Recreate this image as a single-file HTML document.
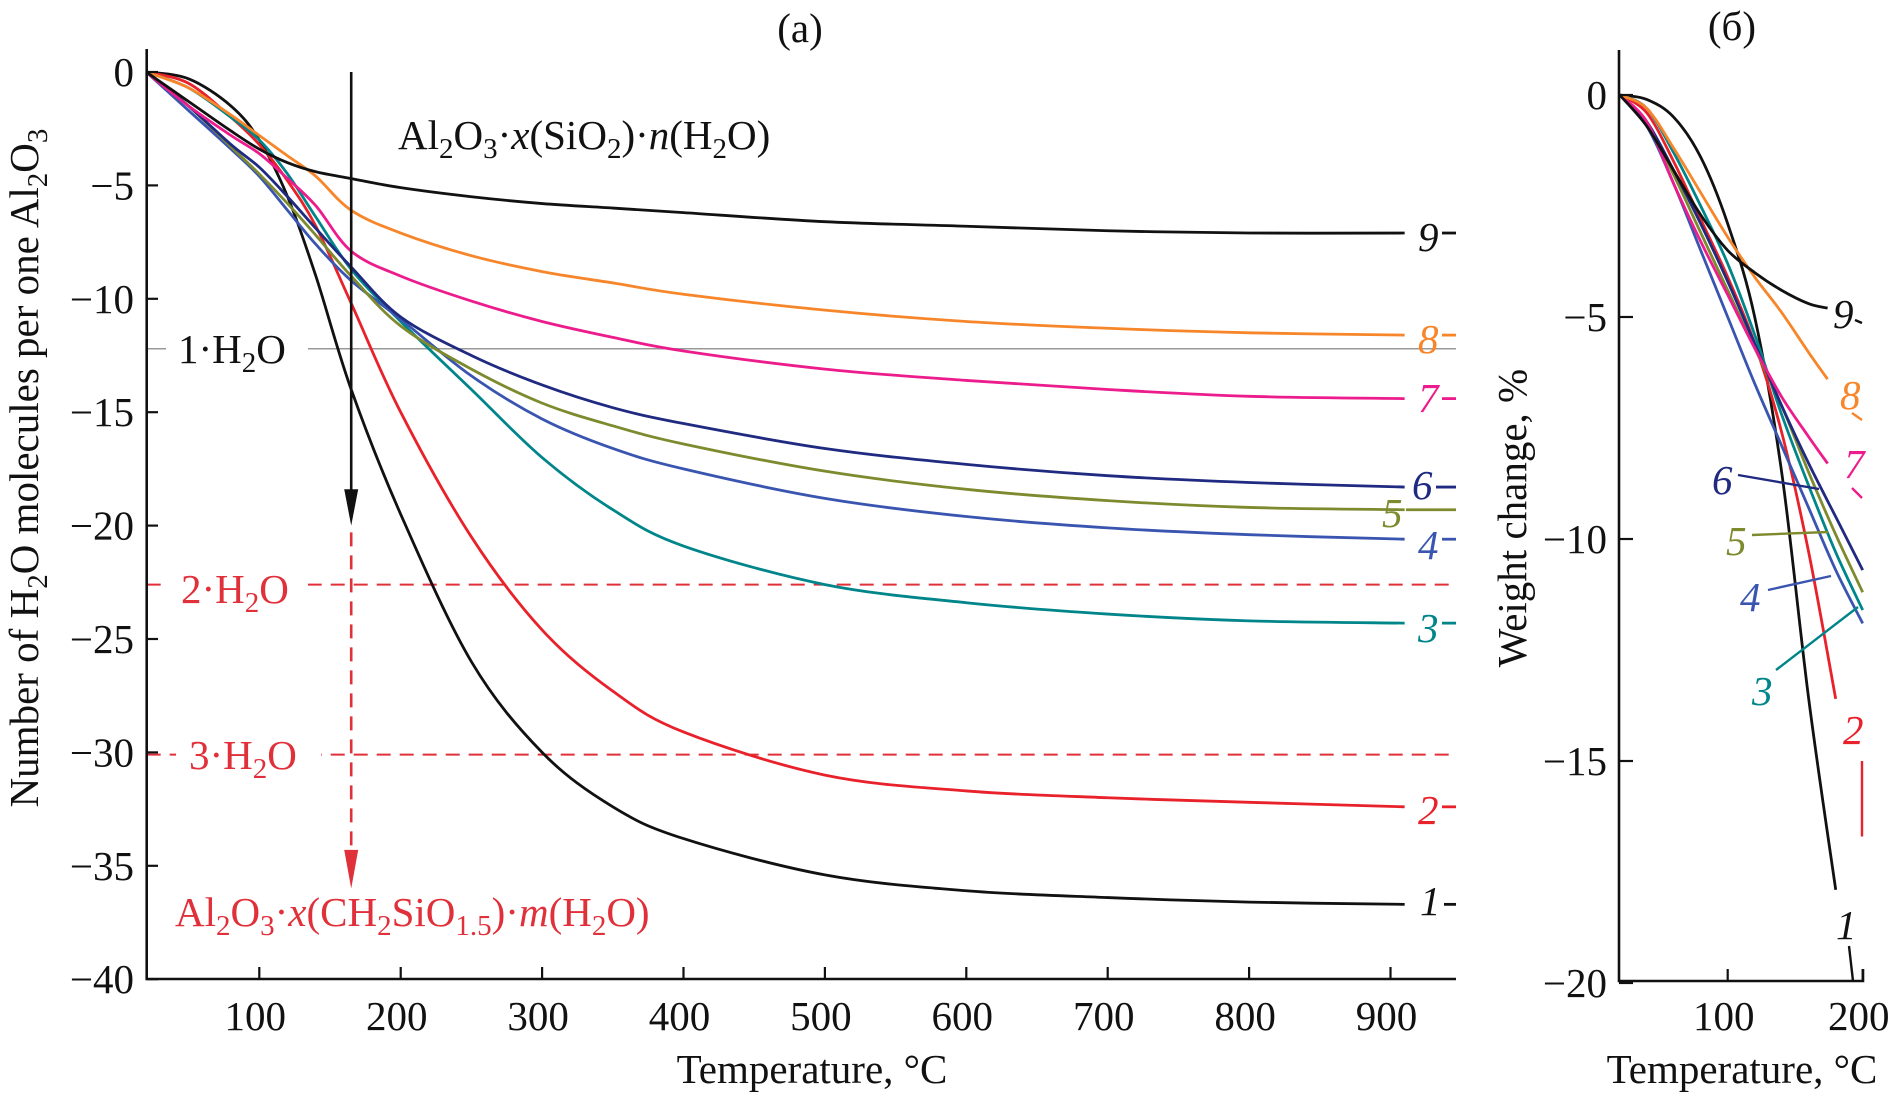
<!DOCTYPE html>
<html><head><meta charset="utf-8"><style>
html,body{margin:0;padding:0;background:#fff}
svg{display:block;font-family:"Liberation Serif",serif}
</style></head><body>
<svg id="chart" width="1890" height="1095" viewBox="0 0 1890 1095" xmlns="http://www.w3.org/2000/svg">
<g id="pa"></g>
<g id="pb"></g>
</svg>
<script>
// ---- Panel (a) data ----
const aTicksX = [100,200,300,400,500,600,700,800,900];
const aTicksY = [0,-5,-10,-15,-20,-25,-30,-35,-40];
const aT = [20,50,80,100,120,140,165,200,250,300,350,400,500,600,700,800,910];
const a1 = [0,-0.3,-1.5,-3.0,-5.5,-9.0,-14.0,-19.5,-26.0,-30.0,-32.4,-33.8,-35.4,-36.1,-36.4,-36.6,-36.7];
const a2 = [0,-0.5,-2.0,-3.2,-4.8,-6.8,-10.2,-15.0,-20.5,-24.6,-27.3,-29.1,-31.0,-31.7,-32.0,-32.2,-32.4];
const a3 = [0,-0.7,-2.0,-3.0,-4.5,-6.4,-8.7,-11.0,-14.0,-17.0,-19.3,-20.9,-22.6,-23.4,-23.9,-24.2,-24.3];
const a4 = [0,-1.7,-3.4,-4.6,-6.1,-7.6,-9.2,-10.9,-13.4,-15.3,-16.6,-17.5,-18.8,-19.6,-20.1,-20.4,-20.6];
const a5 = [0,-1.5,-3.3,-4.5,-5.8,-7.2,-9.0,-11.2,-13.1,-14.6,-15.6,-16.4,-17.6,-18.4,-18.9,-19.2,-19.3];
const a6 = [0,-1.5,-3.2,-4.2,-5.5,-6.9,-8.6,-10.8,-12.5,-13.8,-14.8,-15.5,-16.6,-17.3,-17.8,-18.1,-18.3];
const a7 = [0,-1.5,-2.8,-3.6,-4.7,-5.9,-7.9,-9.0,-10.1,-11.0,-11.7,-12.3,-13.1,-13.6,-14.0,-14.3,-14.4];
const a8 = [0,-0.7,-1.9,-2.8,-3.7,-4.6,-6.1,-7.1,-8.1,-8.8,-9.3,-9.8,-10.5,-11.0,-11.3,-11.5,-11.6];
const a9 = [0,-1.3,-2.6,-3.4,-4.0,-4.4,-4.7,-5.1,-5.5,-5.8,-6.0,-6.2,-6.6,-6.8,-7.0,-7.1,-7.1];
// ---- Panel (b) data ----
const bTicksX = [100,200];
const bTicksY = [0,-5,-10,-15,-20];
const bT = [20,40,60,80,100,120,140,160,180,200];
const b1 = [0,-0.1,-0.5,-1.4,-2.9,-5.0,-8.5,-13.6,-17.9,null];
const b2 = [0,-0.4,-1.5,-2.8,-4.1,-5.6,-7.6,-10.3,-13.6,null];
const b3 = [0,-0.3,-1.3,-2.5,-3.8,-5.4,-7.2,-8.8,-10.3,-11.6];
const b4 = [0,-0.7,-2.0,-3.5,-5.0,-6.5,-7.9,-9.3,-10.7,-11.9];
const b5 = [0,-0.6,-1.8,-3.1,-4.4,-5.7,-7.0,-8.5,-9.9,-11.2];
const b6 = [0,-0.6,-1.7,-2.9,-4.2,-5.6,-7.0,-8.3,-9.5,-10.7];
const b7 = [0,-0.6,-2.0,-3.3,-4.5,-5.7,-6.8,-7.7,null,null];
const b8 = [0,-0.3,-1.2,-2.2,-3.2,-4.1,-4.9,-5.8,null,null];
const b9 = [0,-0.7,-1.7,-2.7,-3.5,-4.0,-4.4,-4.7,null,null];
const bEnd7 = [174,-8.3], bEnd8 = [174,-6.4], bEnd9 = [174,-4.8];

const colors = ['#111','#e8212a','#00858a','#3a55b0','#7e8a2e','#1f2a80','#ec1c8c','#f7862a','#111'];
const NS = 'http://www.w3.org/2000/svg';
const FS = 41;
function el(p, t, a){const e=document.createElementNS(NS,t);for(const k in a)e.setAttribute(k,a[k]);p.appendChild(e);return e;}
function catmull(pts){let d='M'+pts[0][0]+','+pts[0][1];for(let i=0;i<pts.length-1;i++){const p0=pts[i-1]||pts[i],p1=pts[i],p2=pts[i+1],p3=pts[i+2]||p2;d+=' C'+(p1[0]+(p2[0]-p0[0])/6)+','+(p1[1]+(p2[1]-p0[1])/6)+' '+(p2[0]-(p3[0]-p1[0])/6)+','+(p2[1]-(p3[1]-p1[1])/6)+' '+p2[0]+','+p2[1];}return d;}

const axA = T => 117.9 + T*1.414;
const ayA = v => 72 - v*22.68;
const pa = document.getElementById('pa');
function txt(p,x,y,s,opt){const t=el(p,'text',Object.assign({x:x,y:y,'font-size':FS,fill:'#111'},opt||{}));t.innerHTML=s;return t;}
const SUB='dy="9" font-size="29"', UP='dy="-9"';

let g = el(pa,'line',{x1:146.7,x2:1456,y1:ayA(-12.2),y2:ayA(-12.2),stroke:'#999','stroke-width':1.5});


el(pa,'rect',{x:166,y:320,width:142,height:52,fill:'#fff'});
g = el(pa,'line',{x1:146.7,x2:1456,y1:ayA(-22.6),y2:ayA(-22.6),stroke:'#e0303a','stroke-width':2,'stroke-dasharray':'14,9'});


g = el(pa,'line',{x1:146.7,x2:1456,y1:ayA(-30.1),y2:ayA(-30.1),stroke:'#e0303a','stroke-width':2,'stroke-dasharray':'14,9'});


el(pa,'rect',{x:168,y:560,width:140,height:60,fill:'#fff'});
el(pa,'rect',{x:176,y:726,width:145,height:60,fill:'#fff'});

const aSeries=[a1,a2,a3,a4,a5,a6,a7,a8,a9];
aSeries.forEach((s,i)=>{
  const p = el(pa,'path',{d:catmull(aT.map((T,j)=>[axA(T),ayA(s[j])])),fill:'none',stroke:colors[i],'stroke-width':2.8});
  
  
});
const aLabY=[901,810,628,545,513,485,398,339,237];
const aLabX=[1420,1418,1418,1418,1382,1412,1418,1418,1418];
aSeries.forEach((s,i)=>{
  const t = txt(pa,aLabX[i],aLabY[i]+14,String(i+1),{'font-style':'italic',fill:colors[i]});
  
  
  el(pa,'line',{x1:aLabX[i]+24,x2:1456,y1:ayA(s[s.length-1]),y2:ayA(s[s.length-1]),stroke:colors[i],'stroke-width':2.8});
});
el(pa,'line',{x1:axA(165),x2:axA(165),y1:ayA(0),y2:ayA(-18.8),stroke:'#111','stroke-width':2.6});
el(pa,'path',{d:`M${axA(165)-7},${ayA(-18.4)} L${axA(165)+7},${ayA(-18.4)} L${axA(165)},${ayA(-20)} Z`,fill:'#111'});
el(pa,'line',{x1:axA(165),x2:axA(165),y1:ayA(-20.3),y2:ayA(-34.6),stroke:'#e0303a','stroke-width':2.6,'stroke-dasharray':'14,9'});
el(pa,'path',{d:`M${axA(165)-7},${ayA(-34.3)} L${axA(165)+7},${ayA(-34.3)} L${axA(165)},${ayA(-36)} Z`,fill:'#e0303a'});
el(pa,'path',{d:`M146.7,49 V979 H1456`,fill:'none',stroke:'#111','stroke-width':2.6});
aTicksX.forEach(T=>{el(pa,'line',{x1:axA(T),x2:axA(T),y1:979,y2:967,stroke:'#111','stroke-width':2.2});
  const t=txt(pa,axA(T)-4,1030,String(T),{'text-anchor':'middle'});
  
  });
aTicksY.forEach(v=>{el(pa,'line',{x1:146.7,x2:158,y1:ayA(v),y2:ayA(v),stroke:'#111','stroke-width':2.2});
  const t=txt(pa,134,ayA(v)+14,v<0?'\u2212'+(-v):'0',{'text-anchor':'end'});
  
  });
let t;
t=txt(pa,800,42,'(a)',{'text-anchor':'middle'});  
t=txt(pa,812,1083,'Temperature, °C',{'text-anchor':'middle'});  
t=txt(pa,0,0,`Number of H<tspan ${SUB}>2</tspan><tspan ${UP}>O molecules per one Al</tspan><tspan ${SUB}>2</tspan><tspan ${UP}>O</tspan><tspan ${SUB}>3</tspan>`,{'text-anchor':'middle',transform:'translate(38,468) rotate(-90)'});
 
t=txt(pa,398,149,`Al<tspan ${SUB}>2</tspan><tspan ${UP}>O</tspan><tspan ${SUB}>3</tspan><tspan ${UP}>·</tspan><tspan font-style="italic">x</tspan>(SiO<tspan ${SUB}>2</tspan><tspan ${UP}>)·</tspan><tspan font-style="italic">n</tspan>(H<tspan ${SUB}>2</tspan><tspan ${UP}>O)</tspan>`);
 
t=txt(pa,175,926,`Al<tspan ${SUB}>2</tspan><tspan ${UP}>O</tspan><tspan ${SUB}>3</tspan><tspan ${UP}>·</tspan><tspan font-style="italic">x</tspan>(CH<tspan ${SUB}>2</tspan><tspan ${UP}>SiO</tspan><tspan ${SUB}>1.5</tspan><tspan ${UP}>)·</tspan><tspan font-style="italic">m</tspan>(H<tspan ${SUB}>2</tspan><tspan ${UP}>O)</tspan>`,{fill:'#e0303a'});
 
t=txt(pa,178,363,`1·H<tspan ${SUB}>2</tspan><tspan ${UP}>O</tspan>`);  
t=txt(pa,181,603,`2·H<tspan ${SUB}>2</tspan><tspan ${UP}>O</tspan>`,{fill:'#e0303a'});  
t=txt(pa,189,769,`3·H<tspan ${SUB}>2</tspan><tspan ${UP}>O</tspan>`,{fill:'#e0303a'});  

// Panel b
const axB = T => 1592.7 + T*1.35;
const ayB = v => 95 - v*44.4;
const pb = document.getElementById('pb');
const bSeries=[b1,b2,b3,b4,b5,b6,b7,b8,b9];
const bEnds={6:bEnd7,7:bEnd8,8:bEnd9};
bSeries.forEach((s,i)=>{
  const pts=[];bT.forEach((T,j)=>{if(s[j]!==null)pts.push([axB(T),ayB(s[j])]);});
  if(bEnds[i])pts.push([axB(bEnds[i][0]),ayB(bEnds[i][1])]);
  const p=el(pb,'path',{d:catmull(pts),fill:'none',stroke:colors[i],'stroke-width':2.8});
  
  
});
const bLab=[[1836,925],[1843,730],[1752,691],[1740,597],[1726,541],[1712,480],[1844,464],[1840,395],[1833,314]];
bLab.forEach((L,i)=>{const t=txt(pb,L[0],L[1]+14,String(i+1),{'font-style':'italic',fill:colors[i]});
  
  });
const leaders=[[1849,946,1853,981,0],[1862,ayB(-15),1862,ayB(-16.7),1],[1776,670,1858,607,2],[1768,590,1831,576,3],[1752,535,1828,532,4],[1738,475,1819,489,5],[1852,488,1862,498,6],[1852,413,1862,420,7],[1855,320,1862,323,8]];
leaders.forEach(l=>el(pb,'line',{x1:l[0],y1:l[1],x2:l[2],y2:l[3],stroke:colors[l[4]],'stroke-width':2.4}));
el(pb,'path',{d:`M1619,50 V981 H1863 V969`,fill:'none',stroke:'#111','stroke-width':2.6});
bTicksX.forEach(T=>{el(pb,'line',{x1:axB(T),x2:axB(T),y1:981,y2:969,stroke:'#111','stroke-width':2.2});
  const t=txt(pb,axB(T)-4,1030,String(T),{'text-anchor':'middle'});
  
  });
bTicksY.forEach(v=>{el(pb,'line',{x1:1619,x2:1633,y1:ayB(v),y2:ayB(v),stroke:'#111','stroke-width':2.2});
  const t=txt(pb,1607,ayB(v)+14,v<0?'\u2212'+(-v):'0',{'text-anchor':'end'});
  
  });
t=txt(pb,1732,40,'(б)',{'text-anchor':'middle'});  
t=txt(pb,1742,1083,'Temperature, °C',{'text-anchor':'middle'});  
t=txt(pb,0,0,'Weight change, %',{'text-anchor':'middle',transform:'translate(1526,518) rotate(-90)'});  
</script>
</body></html>
